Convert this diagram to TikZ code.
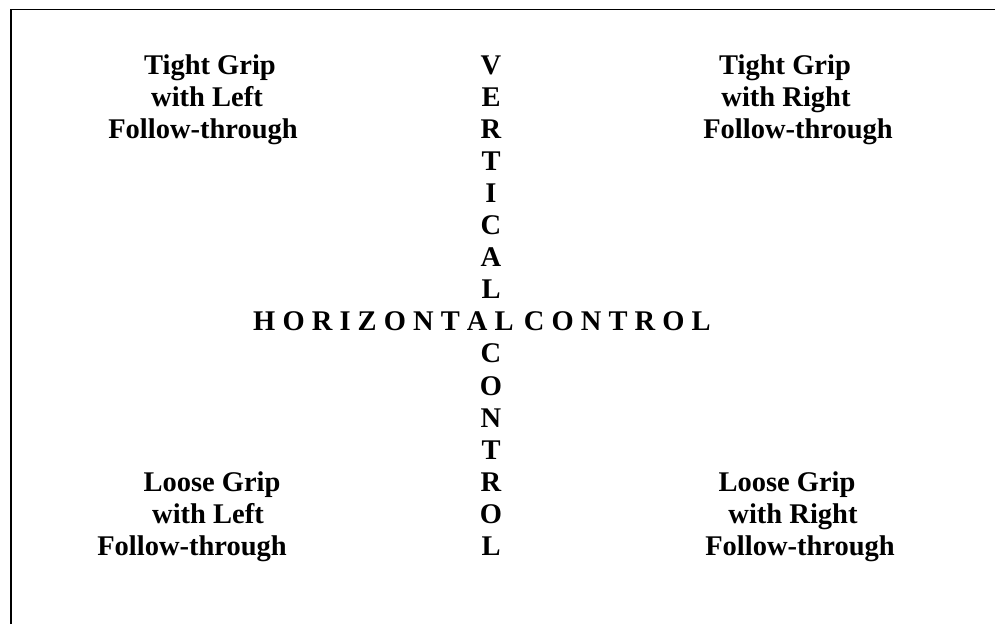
\documentclass[tikz,border=0pt]{standalone}
\usepackage{fontspec}
\setmainfont{Liberation Serif}
\begin{document}
\begin{tikzpicture}[x=1pt,y=-1pt,
  lbl/.style={font=\fontsize{28.5}{32}\selectfont\bfseries, inner sep=0pt, anchor=base},
  framel/.style={line width=1.6pt}]
\useasboundingbox (0,0) rectangle (995,624);
\draw[framel] (11,624) -- (11,9.5) -- (995,9.5);
% vertical column
\foreach \l [count=\i] in {V,E,R,T,I,C,A,L}
  \node[lbl] (v\i) at (491,{74+32.1*(\i-1)}) {\l};
\foreach \l [count=\i] in {C,O,N,T,R,O,L}
  \node[lbl] (w\i) at (491,{74+32.1*(\i+8)}) {\l};
% horizontal row
\node[lbl, anchor=base west] (hc) at (253,330.8) {H O R I Z O N T A L\ \hspace{3pt}C O N T R O L};
% top left
\node[lbl] (tl1) at (210,74) {Tight Grip};
\node[lbl] (tl2) at (207,106.1) {with Left};
\node[lbl] (tl3) at (203,138.2) {Follow-through};
% top right
\node[lbl] (tr1) at (785,74) {Tight Grip};
\node[lbl] (tr2) at (786,106.1) {with Right};
\node[lbl] (tr3) at (798,138.2) {Follow-through};
% bottom left
\node[lbl] (bl1) at (212,491.3) {Loose Grip};
\node[lbl] (bl2) at (208,523.4) {with Left};
\node[lbl] (bl3) at (192,555.5) {Follow-through};
% bottom right
\node[lbl] (br1) at (787,491.3) {Loose Grip};
\node[lbl] (br2) at (793,523.4) {with Right};
\node[lbl] (br3) at (800,555.5) {Follow-through};
\end{tikzpicture}
\end{document}
